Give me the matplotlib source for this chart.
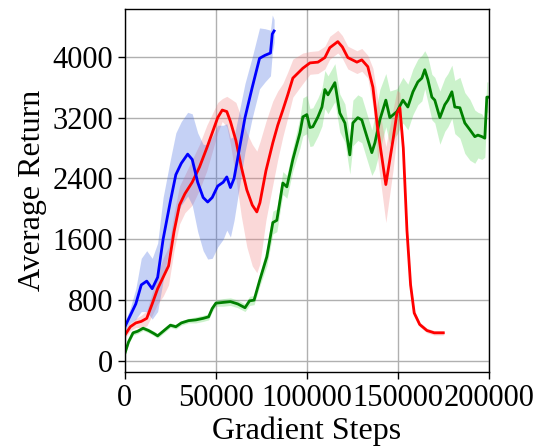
import numpy as np
import matplotlib
matplotlib.use('Agg')
from matplotlib import pyplot as plt

# blue run
blue_steps = [0, 3000, 6000, 9000, 12000, 15000, 18000, 21000, 25000, 28000, 31000, 34500, 37000,
              40000, 43000, 45500, 48000, 51000, 54000, 56000, 58000, 60000, 63000, 66000, 70000,
              74000, 77000, 80000, 81000, 82000]
blue_mean = [450, 600, 750, 1000, 1050, 950, 1100, 1600, 2100, 2450, 2600, 2720, 2650,
             2350, 2150, 2090, 2150, 2300, 2350, 2420, 2280, 2400, 2800, 3200, 3600,
             3980, 4020, 4050, 4300, 4340]
blue_err = [60, 100, 200, 350, 400, 400, 450, 550, 550, 550, 550, 550, 600,
            650, 700, 750, 800, 800, 750, 700, 650, 550, 500, 450, 400,
            400, 350, 300, 250, 150]

# red run
red_steps = [0, 3000, 6000, 9000, 12000, 15000, 18000, 21000, 24000, 27000, 30000, 33000, 37000,
             41000, 45000, 48000, 51000, 53500, 56000, 58000, 61000, 64000, 67000, 70000, 72500,
             74200, 77500, 81300, 84000, 86800, 89500, 92300, 97800, 101700, 106100, 109900,
             112600, 117000, 119500, 122500, 127500, 130200, 133500, 136300, 139000, 143400,
             147300, 149500, 151100, 153000, 155000, 157000, 159000, 162000, 166000, 170000, 175000]
red_mean = [340, 450, 500, 520, 560, 750, 950, 1100, 1250, 1700, 2050, 2200, 2350,
            2550, 2800, 3000, 3200, 3300, 3280, 3150, 2900, 2550, 2250, 2050, 1960,
            2080, 2500, 2870, 3100, 3300, 3500, 3720, 3850, 3920, 3930, 3990,
            4120, 4200, 4130, 3990, 3930, 3960, 3870, 3600, 3040, 2320,
            2900, 3260, 3330, 2800, 1720, 1000, 630, 480, 400, 370, 370]
red_err = [40, 50, 60, 80, 100, 150, 200, 250, 250, 250, 250, 250, 300,
           300, 300, 250, 200, 150, 200, 300, 500, 650, 750, 800, 800,
           800, 650, 550, 450, 350, 300, 250, 200, 150, 150, 150,
           150, 150, 150, 150, 150, 150, 150, 250, 400, 500,
           400, 300, 200, 100, 60, 50, 40, 30, 30, 30, 30]

# green run
green_steps = [0, 2000, 4500, 7000, 10000, 13000, 16000, 18000, 21000, 25000, 28000, 31000, 35000,
               39000, 43000, 46000, 48000, 50000, 54000, 58000, 62000, 66000, 68500, 71000, 74200,
               78000, 81300, 83500, 86800, 89000, 92300, 96200, 97800, 100000, 101700, 103300,
               106100, 108300, 109900, 111600, 115400, 118100, 120900, 123600, 125300, 128000,
               130200, 133000, 135700, 137400, 140100, 143400, 145600, 149500, 152800, 155500,
               158300, 161000, 163200, 164800, 166500, 168700, 170300, 173100, 175800, 177500,
               179700, 181300, 184100, 186800, 189600, 192300, 194000, 196200, 197800, 198900, 199500]
green_mean = [100, 250, 370, 390, 430, 400, 360, 330, 390, 470, 450, 500, 530,
              540, 560, 580, 690, 760, 770, 780, 750, 700, 790, 800, 1070,
              1370, 1820, 1850, 2340, 2290, 2650, 3000, 3210, 3240, 3070, 3080,
              3210, 3340, 3570, 3500, 3660, 3260, 3130, 2710, 3130, 3200,
              3170, 2950, 2740, 2870, 3170, 3430, 3200, 3280, 3430, 3340,
              3540, 3670, 3720, 3830, 3700, 3470, 3430, 3200, 3370, 3430,
              3540, 3340, 3330, 3130, 3040, 2950, 2970, 2950, 2930, 3470, 3470]
green_err = [20, 30, 30, 30, 30, 30, 30, 30, 30, 30, 30, 30, 30,
             40, 40, 40, 40, 40, 50, 50, 50, 50, 60, 60, 80,
             120, 150, 150, 150, 150, 150, 200, 250, 250, 250, 250,
             250, 250, 250, 250, 250, 250, 250, 250, 300, 300,
             300, 300, 300, 350, 400, 350, 350, 300, 300, 300,
             300, 300, 300, 250, 300, 300, 300, 350, 350, 350,
             350, 350, 400, 400, 400, 350, 300, 300, 250, 200, 200]

x_ticks = [0, 50000, 100000, 150000, 200000]
y_ticks = [0, 800, 1600, 2400, 3200, 4000]

plt.rcParams['font.family'] = ['Liberation Serif', 'DejaVu Serif']
plt.rcParams['font.size'] = 22

fig = plt.figure(figsize=(5.36, 4.46), dpi=100)
ax = fig.add_axes([0.233, 0.166, 0.679, 0.814])

runs = [
    (green_steps, green_mean, green_err, 'green', 'limegreen', 0.25),
    (red_steps, red_mean, red_err, 'red', 'lightcoral', 0.3),
    (blue_steps, blue_mean, blue_err, 'blue', 'royalblue', 0.3),
]
for steps, mean, err, c, fc, a in runs:
    s = np.array(steps)
    m = np.array(mean)
    e = np.array(err)
    ax.fill_between(s, m - e, m + e, color=fc, alpha=a, linewidth=0)
for steps, mean, err, c, fc, a in runs:
    ax.plot(steps, mean, color=c, linewidth=2)

ax.set_xlim(0, 200000)
ax.set_ylim(-145, 4630)
ax.set_xticks(x_ticks)
ax.set_yticks(y_ticks)
ax.grid(True, color='#b0b0b0', linewidth=1)
ax.set_axisbelow(True)
ax.tick_params(direction='out', length=5, width=1, labelsize=22)
for sp in ax.spines.values():
    sp.set_color('black')
    sp.set_linewidth(1)
ax.set_xlabel('Gradient Steps', fontsize=23, labelpad=3)
ax.set_ylabel('Average Return', fontsize=23, labelpad=4)

fig.savefig('out.png', dpi=100)
